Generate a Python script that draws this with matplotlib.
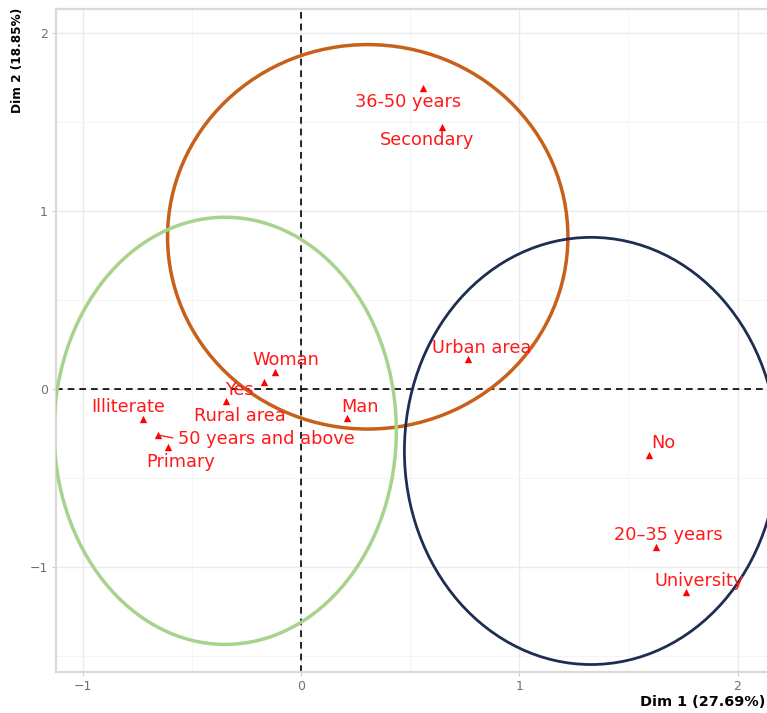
import matplotlib
matplotlib.use("Agg")
import matplotlib.pyplot as plt
from matplotlib.patches import Ellipse
from matplotlib.ticker import MultipleLocator

# Category coordinates on the first two dimensions
categories = ["36-50 years", "Secondary", "Urban area", "Woman", "Yes", "Rural area",
              "Man", "Illiterate", "50 years and above", "Primary", "No",
              "20\u201335 years", "University"]
dim1 = [0.557, 0.644, 0.764, -0.120, -0.167, -0.345, 0.210, -0.725, -0.656,
        -0.611, 1.593, 1.625, 1.762]
dim2 = [1.691, 1.472, 0.169, 0.096, 0.039, -0.067, -0.163, -0.169, -0.258,
        -0.326, -0.371, -0.888, -1.140]

# Cluster ellipses: centre x, centre y, full width, full height
ell_cx = [0.306, -0.347, 1.329]
ell_cy = [0.855, -0.235, -0.348]
ell_w = [1.834, 1.568, 1.710]
ell_h = [2.160, 2.400, 2.400]
ell_colors = ["#C8601B", "#A8D38C", "#1E2E52"]
ell_lw = [2.5, 2.5, 2.0]

x_label = "Dim 1 (27.69%)"
y_label = "Dim 2 (18.85%)"

# label placement (pixels from each point: right, up)
label_offsets = {
    "36-50 years": (-14, -14), "Secondary": (-14, -13), "Urban area": (14, 11),
    "Woman": (11, 12), "Yes": (-25, -8), "Rural area": (14, -15),
    "Man": (13, 11), "Illiterate": (-14, 12), "50 years and above": (109, -4),
    "Primary": (13, -15), "No": (15, 12), "20\u201335 years": (13, 12),
    "University": (14, 11),
}

W, H = 767, 713
fig = plt.figure(figsize=(W / 100, H / 100), dpi=100)
left, right, top, bottom = 56, 803, 9, 672
ax = fig.add_axes([left / W, 1 - bottom / H, (right - left) / W, (bottom - top) / H])
ax.set_xlim(-1.122, 2.300)
ax.set_ylim(-1.590, 2.135)

ax.xaxis.set_major_locator(MultipleLocator(1))
ax.yaxis.set_major_locator(MultipleLocator(1))
ax.xaxis.set_minor_locator(MultipleLocator(0.5))
ax.yaxis.set_minor_locator(MultipleLocator(0.5))
ax.grid(which="major", color="#EBEBEB", lw=1.0, zorder=0)
ax.grid(which="minor", color="#F4F4F4", lw=0.6, zorder=0)
ax.set_axisbelow(True)
ax.tick_params(which="major", length=3, color="#CCCCCC", labelcolor="#707070",
               labelsize=9, pad=3)
ax.tick_params(which="minor", length=0)
for s in ax.spines.values():
    s.set_color("#DADADA")
    s.set_linewidth(1.6)

ax.axhline(0, color="black", lw=1.2, ls=(0, (4, 3)), zorder=2)
ax.axvline(0, color="black", lw=1.2, ls=(0, (4, 3)), zorder=2)

for cx, cy, w, h, c, lw in zip(ell_cx, ell_cy, ell_w, ell_h, ell_colors, ell_lw):
    ax.add_patch(Ellipse((cx, cy), w, h, fill=False, ec=c, lw=lw, zorder=3))

ax.scatter(dim1, dim2, marker="^", s=28, color="#FF0000", lw=0, zorder=4)

for name, x, y in zip(categories, dim1, dim2):
    dx, dy = label_offsets[name]
    ax.annotate(name, (x, y), xytext=(dx, dy), textcoords="offset pixels",
                ha="center", va="center", color="#FF1A1A", fontsize=12.8,
                family="DejaVu Sans", zorder=5)
    if name == "50 years and above":
        ax.annotate("", (x, y), xytext=(15, -3), textcoords="offset pixels",
                    arrowprops=dict(arrowstyle="-", color="#FF1A1A", lw=1.0,
                                    shrinkA=0, shrinkB=0), zorder=5)

fig.text(18 / W, 1 - 8 / H, y_label, rotation=90, ha="center", va="top",
         fontsize=8.7, fontweight="bold", color="black")
fig.text(765 / W, 1 - 702 / H, x_label, ha="right", va="center",
         fontsize=10.4, fontweight="bold", color="black")

fig.savefig("out.png", dpi=100)
